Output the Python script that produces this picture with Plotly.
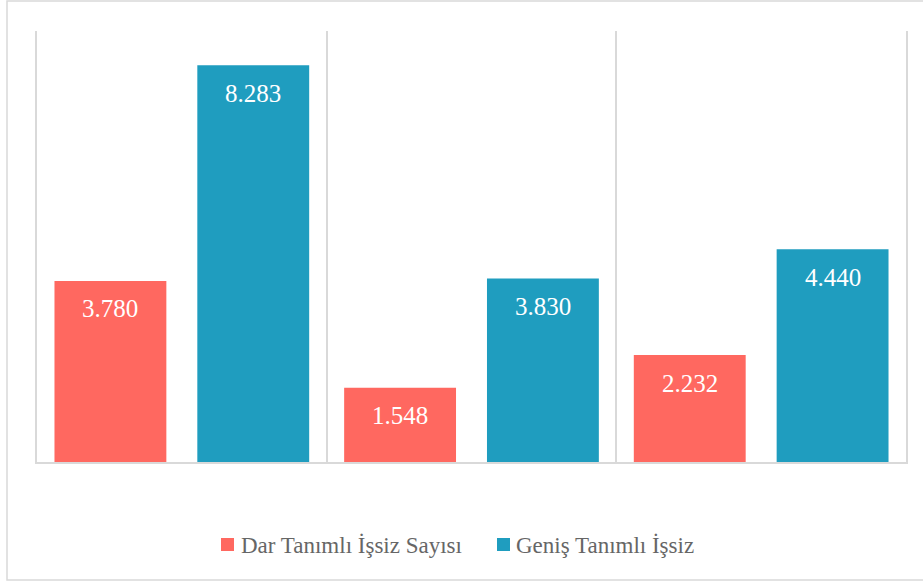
import plotly.graph_objects as go

groups = [0, 1, 2]
series_names = ["Dar Tanımlı İşsiz Sayısı", "Geniş Tanımlı İşsiz"]
dar_values = [3.780, 1.548, 2.232]
genis_values = [8.283, 3.830, 4.440]
dar_labels = ["3.780", "1.548", "2.232"]
genis_labels = ["8.283", "3.830", "4.440"]

colors = ["#FF6860", "#1F9DBF"]
W, H = 923, 582
ml, mr, mt, mb = 37, 17, 31, 120
pw, ph = W - ml - mr, H - mt - mb


def px_x(px):
    return (px - ml) / pw


def px_y(py):
    return (ph + mt - py) / ph


# bar geometry in data units (one category = 1 unit)
bar_w = 112 / 290
half_gap = 15.5 / 290
offsets = [-half_gap - bar_w, half_gap]

fig = go.Figure()
for name, vals, col, off in zip(series_names, [dar_values, genis_values], colors, offsets):
    fig.add_trace(go.Bar(
        x=groups, y=vals, name=name, width=bar_w, offset=off,
        marker=dict(color=col, line=dict(width=0)),
        hoverinfo="y", showlegend=False,
    ))

annotations = []
for vals, labels, off in zip([dar_values, genis_values], [dar_labels, genis_labels], offsets):
    for g, v, lab in zip(groups, vals, labels):
        annotations.append(dict(
            x=g + off + bar_w / 2, y=v, xref="x", yref="y", text=lab,
            showarrow=False, yanchor="middle", yshift=-28,
            font=dict(family="Liberation Serif", size=25, color="white"),
        ))

# chart frame: top, left and bottom edges (right edge lies outside the picture)
xr, xl = px_x(W + 40), px_x(7)
yt, yb = px_y(1), px_y(580)
shapes = [dict(
    type="path", xref="paper", yref="paper",
    path=f"M {xr},{yt} L {xl},{yt} L {xl},{yb} L {xr},{yb}",
    line=dict(color="#d9d9d9", width=1.5), layer="below",
)]

# manual legend (square swatch + label)
legend_items = [(221, 239), (497, 514)]
for (sq_x, txt_x), name, col in zip(legend_items, series_names, colors):
    shapes.append(dict(
        type="rect", xref="paper", yref="paper",
        x0=px_x(sq_x), x1=px_x(sq_x + 13), y0=px_y(551), y1=px_y(538),
        line=dict(width=0), fillcolor=col,
    ))
    annotations.append(dict(
        x=px_x(txt_x), y=px_y(545), xref="paper", yref="paper", text=name,
        showarrow=False, xanchor="left", yanchor="middle",
        font=dict(family="Liberation Serif", size=23, color="#666666"),
    ))

fig.update_layout(
    width=W, height=H,
    margin=dict(l=ml, r=mr, t=mt, b=mb),
    paper_bgcolor="white", plot_bgcolor="white",
    barmode="overlay",
    showlegend=False,
    xaxis=dict(
        range=[-0.5, 2.5], tickvals=[0.5, 1.5], showticklabels=False,
        showgrid=True, gridcolor="#d9d9d9", gridwidth=2, zeroline=False,
        showline=True, linecolor="#d9d9d9", linewidth=2, ticks="",
    ),
    yaxis=dict(range=[0, 9], showgrid=False, zeroline=False, showticklabels=False,
               showline=True, mirror=True, linecolor="#d9d9d9", linewidth=2),
    annotations=annotations,
    shapes=shapes,
)

fig.write_html("out.html", config={"displayModeBar": False},
               post_script="document.body.style.margin='0';")
